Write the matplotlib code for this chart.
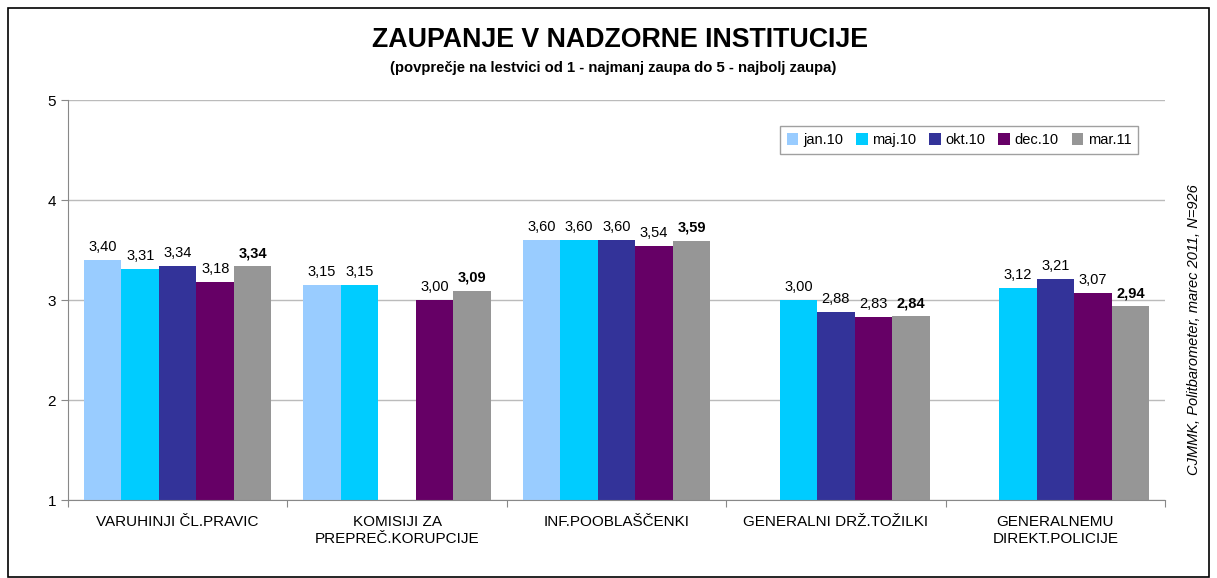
import matplotlib
matplotlib.use("Agg")
import matplotlib.pyplot as plt
import numpy as np
from matplotlib.patches import Rectangle

plt.rcParams['font.family'] = ['Liberation Sans', 'DejaVu Sans']

categories = ["VARUHINJI ČL.PRAVIC", "KOMISIJI ZA\nPREPREČ.KORUPCIJE", "INF.POOBLAŠČENKI",
              "GENERALNI DRŽ.TOŽILKI", "GENERALNEMU\nDIREKT.POLICIJE"]
series_names = ["jan.10", "maj.10", "okt.10", "dec.10", "mar.11"]
jan10 = [3.40, 3.15, 3.60, None, None]
maj10 = [3.31, 3.15, 3.60, 3.00, 3.12]
okt10 = [3.34, None, 3.60, 2.88, 3.21]
dec10 = [3.18, 3.00, 3.54, 2.83, 3.07]
mar11 = [3.34, 3.09, 3.59, 2.84, 2.94]
series = [jan10, maj10, okt10, dec10, mar11]
colors = ["#99CCFF", "#00CCFF", "#333399", "#660066", "#969696"]

fig = plt.figure(figsize=(12.17, 5.78), dpi=100)
fig.patches.append(Rectangle((8/1217, 1-577/578), 1-16/1217, (577-8)/578, transform=fig.transFigure,
                             fill=False, edgecolor='black', linewidth=1.2))
ax = fig.add_axes([68/1217, 1-500/578, (1165-68)/1217, 400/578])

x = np.arange(len(categories))
w = 0.171
for i, (s, c) in enumerate(zip(series, colors)):
    pos = x + (i - 2) * w
    for xp, v in zip(pos, s):
        if v is None:
            continue
        ax.bar(xp, v - 1, bottom=1, width=w, color=c, edgecolor='none')
        ax.text(xp, v + 0.06, f"{v:.2f}".replace('.', ','), ha='center', va='bottom',
                fontsize=10.5, fontweight='bold' if i == 4 else 'normal')
    ax.bar(0, 0, color=c, label=series_names[i])

ax.set_xlim(-0.5, len(categories) - 0.5)
ax.set_ylim(1, 5)
ax.set_yticks([1, 2, 3, 4, 5])
ax.set_yticklabels(['1', '2', '3', '4', '5'], fontsize=11)
ax.yaxis.grid(True, color='#BBBBBB', linewidth=1)
ax.set_axisbelow(True)
ax.set_xticks(np.arange(len(categories) + 1) - 0.5, minor=False)
ax.set_xticklabels([])
ax.set_xticks(x, minor=True)
ax.set_xticklabels(categories, minor=True, fontsize=11, linespacing=1.25)
ax.tick_params(axis='x', which='minor', length=0, pad=11)
ax.tick_params(axis='x', which='major', length=5, color='#888888')
ax.tick_params(axis='y', length=5, color='#888888')
for sp in ['top', 'right']:
    ax.spines[sp].set_visible(False)
for sp in ['left', 'bottom']:
    ax.spines[sp].set_color('#888888')

leg = ax.legend(loc='upper right', bbox_to_anchor=(0.982, 0.952), ncol=5, fontsize=10.5,
                frameon=True, fancybox=False, edgecolor='#888888', handlelength=0.8,
                handleheight=0.8, handletextpad=0.3, columnspacing=0.9, borderpad=0.45)
leg.get_frame().set_linewidth(1)

fig.text(620/1217, 1-40/578, "ZAUPANJE V NADZORNE INSTITUCIJE", ha='center', va='center',
         fontsize=19.3, fontweight='bold')
fig.text(613/1217, 1-68/578, "(povprečje na lestvici od 1 - najmanj zaupa do 5 - najbolj zaupa)",
         ha='center', va='center', fontsize=10.7, fontweight='bold')
fig.text(1194/1217, 1-330/578, "CJMMK, Politbarometer, marec 2011, N=926", rotation=90,
         ha='center', va='center', fontsize=10.5, style='italic')

fig.savefig("out.png", dpi=100)
